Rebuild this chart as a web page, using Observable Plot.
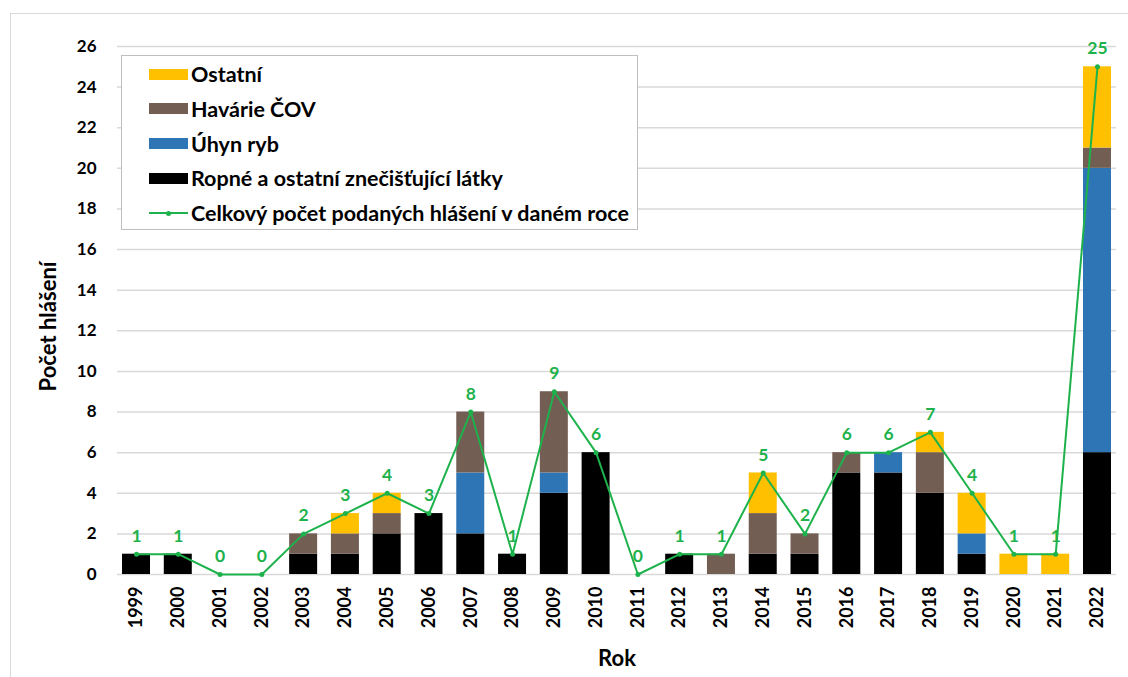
<!DOCTYPE html>
<html>
<head>
<meta charset="utf-8">
<script src="https://cdn.jsdelivr.net/npm/d3@7"></script>
<script src="https://cdn.jsdelivr.net/npm/@observablehq/plot@0.6"></script>
<style>
  html, body { margin: 0; padding: 0; background: #fff; }
  body { width: 1128px; height: 677px; position: relative; overflow: hidden; font-family: Lato, "Open Sans", sans-serif; }
  #frame { position: absolute; left: 10px; top: 13px; width: 1125px; height: 700px; border: 1px solid #d9d9d9; box-sizing: border-box; }
  #chart { position: absolute; left: 0; top: 0; }
  #legend { position: absolute; left: 121px; top: 55px; width: 517px; height: 175px; border: 1px solid #bfbfbf; background: #fff; box-sizing: border-box; }
  .item { position: absolute; left: 27px; height: 24px; display: flex; align-items: center; font-weight: bold; font-size: 21.5px; color: #000; white-space: nowrap; }
  .sw { width: 39px; height: 11px; margin-right: 3px; flex: none; }
  .ln { width: 39px; height: 2px; margin-right: 3px; position: relative; flex: none; }
  .ln::after { content: ""; position: absolute; left: 17px; top: -1.5px; width: 5px; height: 5px; border-radius: 50%; background: inherit; }
</style>
</head>
<body>
<div id="frame"></div>
<div id="chart"></div>
<div id="legend"></div>
<script>
const years = ["1999","2000","2001","2002","2003","2004","2005","2006","2007","2008","2009","2010","2011","2012","2013","2014","2015","2016","2017","2018","2019","2020","2021","2022"];
const ropne   = [1,1,0,0,1,1,2,3,2,1,4,6,0,1,0,1,1,5,5,4,1,0,0,6];
const uhyn    = [0,0,0,0,0,0,0,0,3,0,1,0,0,0,0,0,0,0,1,0,1,0,0,14];
const havarie = [0,0,0,0,1,1,1,0,3,0,4,0,0,0,1,2,1,1,0,2,0,0,0,1];
const ostatni = [0,0,0,0,0,1,1,0,0,0,0,0,0,0,0,2,0,0,0,1,2,1,1,4];
const celkem  = [1,1,0,0,2,3,4,3,8,1,9,6,0,1,1,5,2,6,6,7,4,1,1,25];
const seriesNames = ["Ropné a ostatní znečišťující látky", "Úhyn ryb", "Havárie ČOV", "Ostatní"];
const seriesColors = ["#000000", "#2E75B6", "#735E54", "#FFC000"];
const lineName = "Celkový počet podaných hlášení v daném roce";
const lineColor = "#1DB24B";
const yTicks = d3.range(0, 27, 2);
const yTitle = "Počet hlášení";
const xTitle = "Rok";

const seriesValues = [ropne, uhyn, havarie, ostatni];
const stacked = [];
seriesValues.forEach((vals, si) => {
  years.forEach((yr, i) => stacked.push({year: yr, series: seriesNames[si], value: vals[i]}));
});
const totals = years.map((yr, i) => ({year: yr, total: celkem[i]}));

const chart = Plot.plot({
  width: 1128,
  height: 677,
  marginLeft: 117,
  marginRight: 12,
  marginTop: 46,
  marginBottom: 103,
  style: {fontFamily: "Lato, 'Open Sans', sans-serif", background: "transparent"},
  x: {domain: years, paddingInner: 0.33, paddingOuter: 0.12, round: false, label: null},
  y: {domain: [0, 26], ticks: yTicks, label: null},
  color: {domain: seriesNames, range: seriesColors},
  marks: [
    Plot.gridY(yTicks, {stroke: "#d9d9d9", strokeOpacity: 1, strokeWidth: 1.5}),
    Plot.axisY({ticks: yTicks, tickSize: 0, tickPadding: 21, fontSize: 17, fontWeight: "bold", label: null}),
    Plot.axisX({tickSize: 0, tickPadding: 12, tickRotate: -90, fontSize: 18, fontWeight: "bold", label: null}),
    Plot.barY(stacked, {x: "year", y: "value", fill: "series"}),
    Plot.line(totals, {x: "year", y: "total", stroke: lineColor, strokeWidth: 2}),
    Plot.dot(totals, {x: "year", y: "total", fill: lineColor, r: 2.5}),
    Plot.text(totals, {x: "year", y: "total", text: d => String(d.total), dy: -18, fill: lineColor, fontSize: 17.5, fontWeight: "bold"}),
    Plot.text([yTitle], {frameAnchor: "left", textAnchor: "middle", rotate: -90, dx: -69, dy: 16, fontSize: 22, fontWeight: "bold", fill: "#000"}),
    Plot.text([xTitle], {frameAnchor: "bottom", dy: 91, fontSize: 22, fontWeight: "bold", fill: "#000"})
  ]
});
document.getElementById("chart").appendChild(chart);

// legend
const legend = document.getElementById("legend");
const legendItems = [
  {name: seriesNames[3], color: seriesColors[3]},
  {name: seriesNames[2], color: seriesColors[2]},
  {name: seriesNames[1], color: seriesColors[1]},
  {name: seriesNames[0], color: seriesColors[0]},
  {name: lineName, color: lineColor, line: true}
];
legendItems.forEach((it, i) => {
  const row = document.createElement("div");
  row.className = "item";
  row.style.top = (6 + i * 34.8) + "px";
  const sw = document.createElement("div");
  sw.className = it.line ? "ln" : "sw";
  sw.style.background = it.color;
  const tx = document.createElement("span");
  tx.textContent = it.name;
  row.appendChild(sw);
  row.appendChild(tx);
  legend.appendChild(row);
});
</script>
</body>
</html>
